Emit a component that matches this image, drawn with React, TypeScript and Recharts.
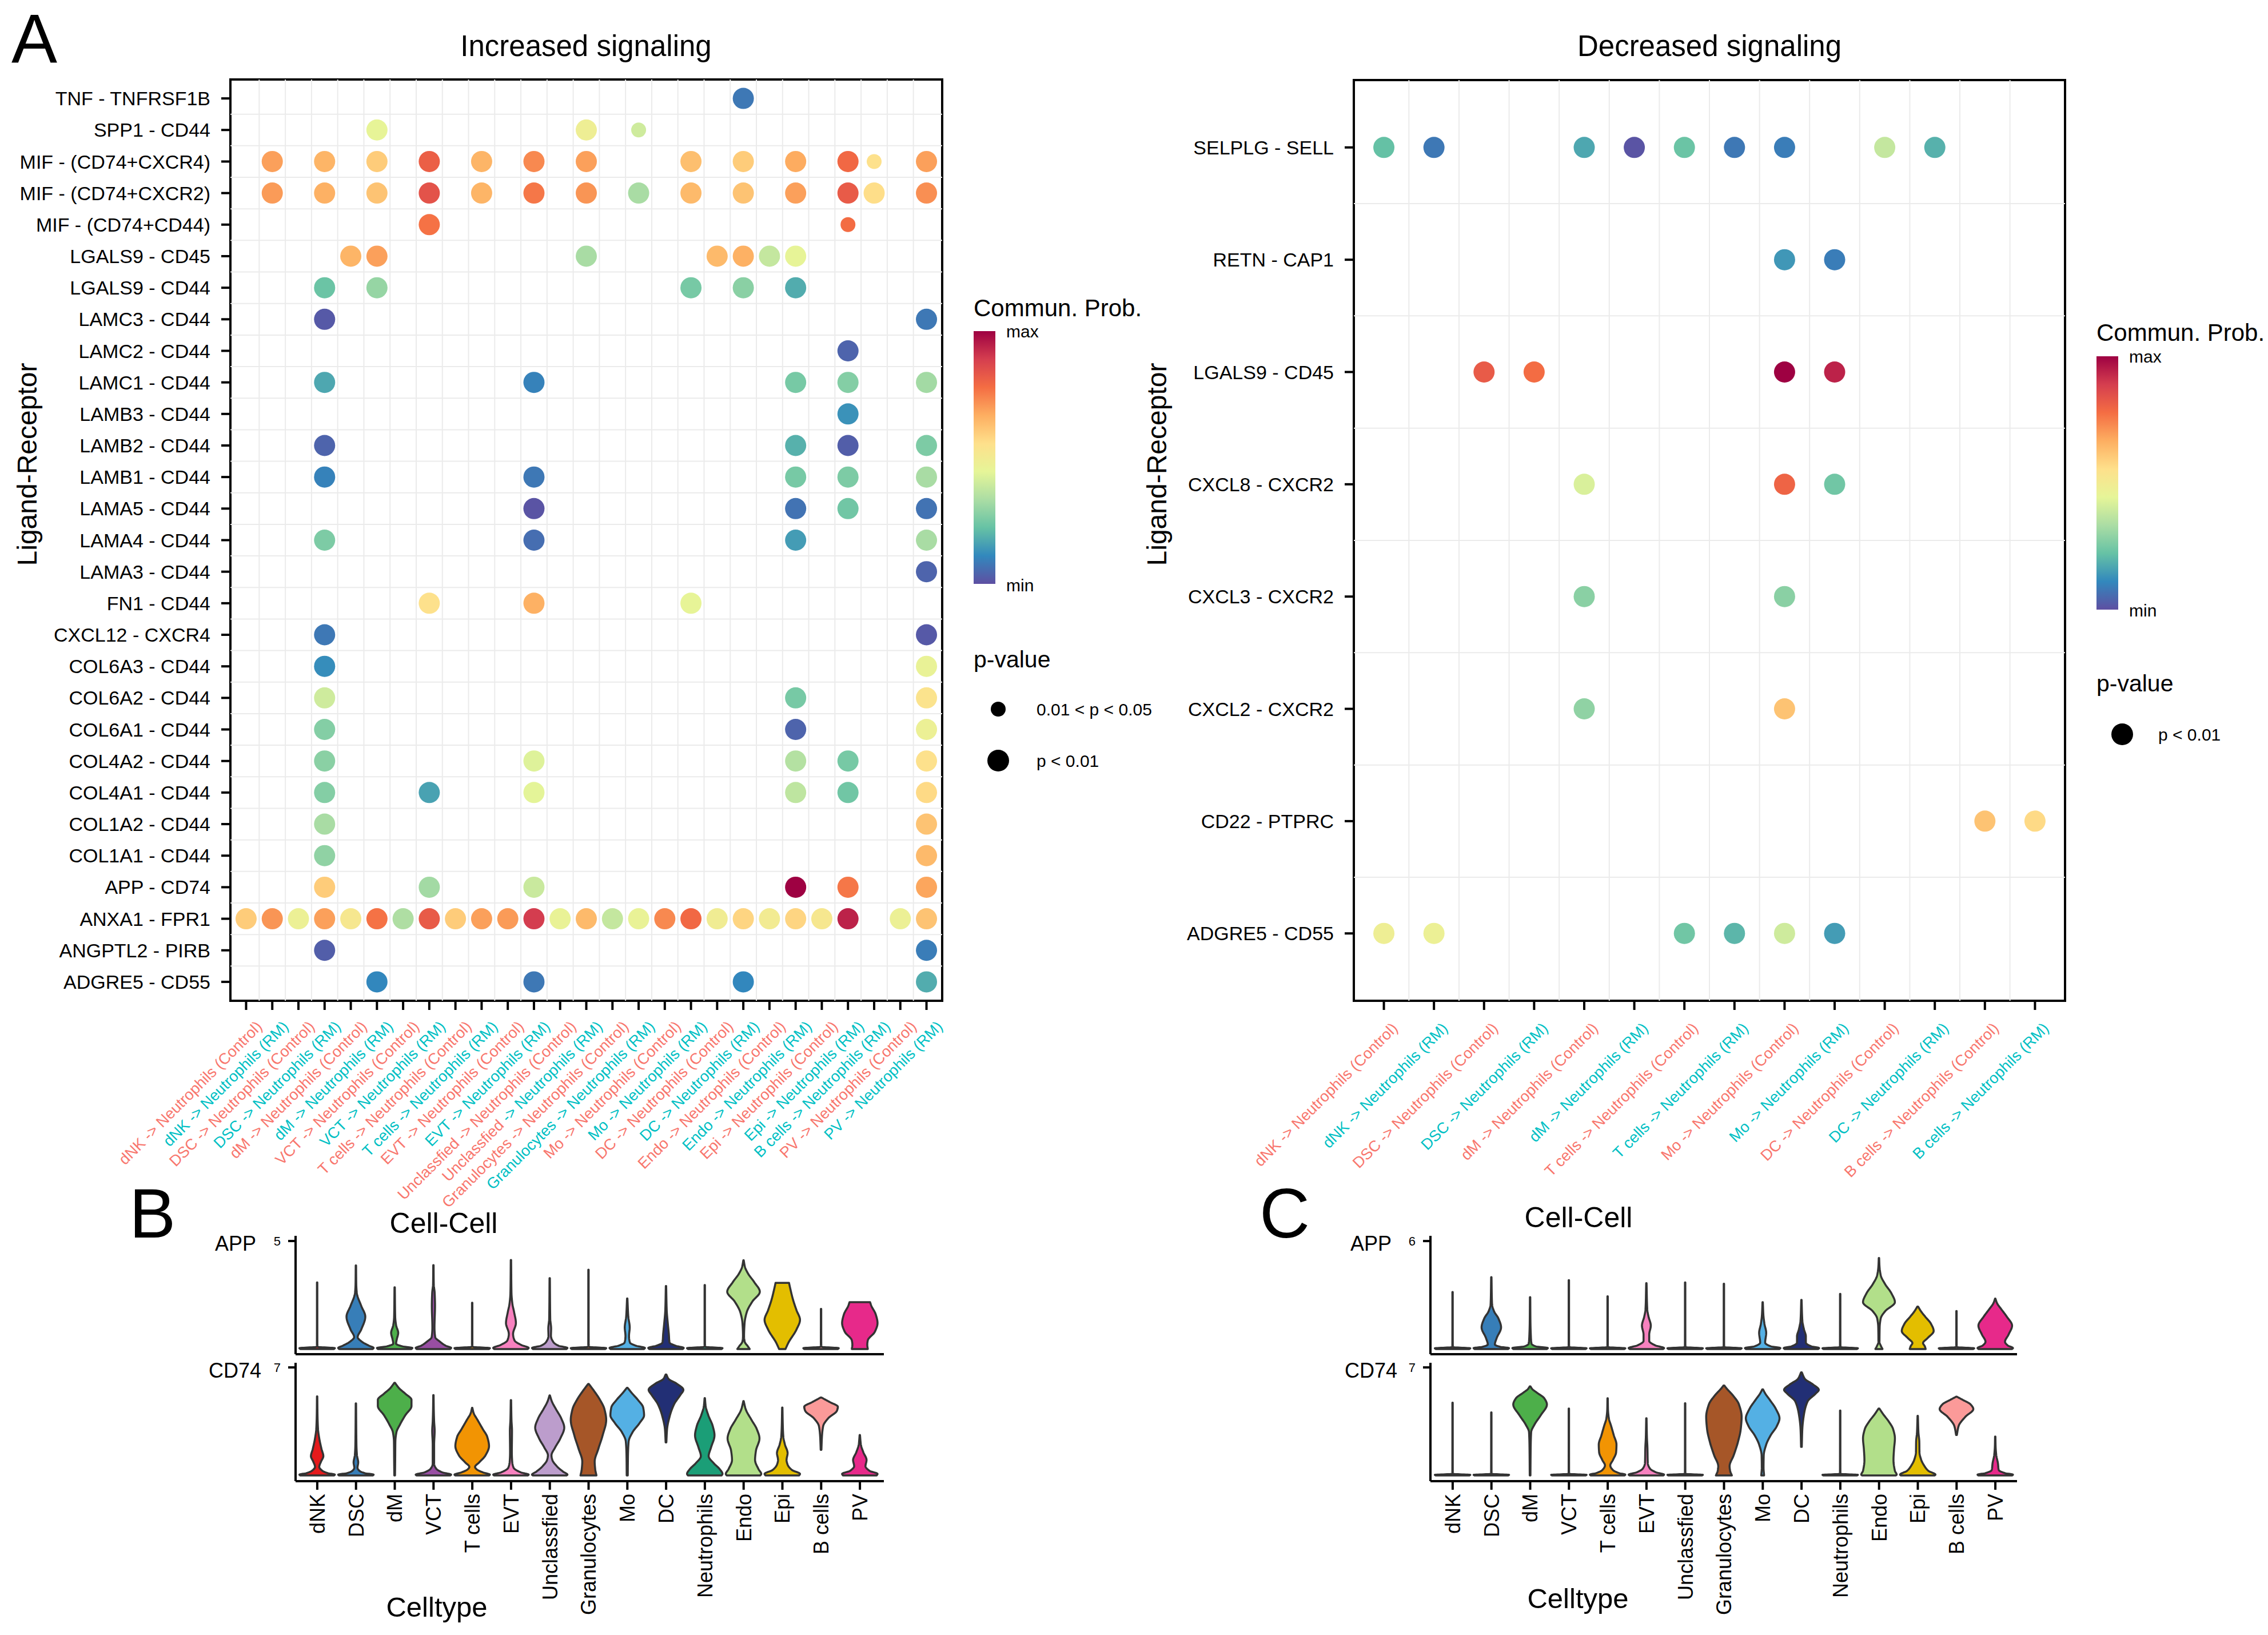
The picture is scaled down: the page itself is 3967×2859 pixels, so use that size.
import React from 'react';
import {
  ScatterChart,
  Scatter,
  XAxis,
  YAxis,
  ReferenceLine,
  ReferenceArea,
  ComposedChart,
  Bar,
} from 'recharts';

const FONT = '"Liberation Sans", Arial, Helvetica, sans-serif';

// RColorBrewer Spectral, from min to max
const SPECTRAL = ['#5E4FA2', '#3288BD', '#66C2A5', '#ABDDA4', '#E6F598', '#FEE08B', '#FDAE61', '#F46D43', '#D53E4F', '#9E0142'];
const CONTROL = '#F8766D';
const RM = '#00BFC4';

// ---------- A, increased signaling ----------
const incPairs = [
  'TNF - TNFRSF1B', 'SPP1 - CD44', 'MIF - (CD74+CXCR4)', 'MIF - (CD74+CXCR2)', 'MIF - (CD74+CD44)',
  'LGALS9 - CD45', 'LGALS9 - CD44', 'LAMC3 - CD44', 'LAMC2 - CD44', 'LAMC1 - CD44', 'LAMB3 - CD44',
  'LAMB2 - CD44', 'LAMB1 - CD44', 'LAMA5 - CD44', 'LAMA4 - CD44', 'LAMA3 - CD44', 'FN1 - CD44',
  'CXCL12 - CXCR4', 'COL6A3 - CD44', 'COL6A2 - CD44', 'COL6A1 - CD44', 'COL4A2 - CD44', 'COL4A1 - CD44',
  'COL1A2 - CD44', 'COL1A1 - CD44', 'APP - CD74', 'ANXA1 - FPR1', 'ANGPTL2 - PIRB', 'ADGRE5 - CD55',
];

const incTargets = [
  'dNK -> Neutrophils (Control)', 'dNK -> Neutrophils (RM)', 'DSC -> Neutrophils (Control)', 'DSC -> Neutrophils (RM)',
  'dM -> Neutrophils (Control)', 'dM -> Neutrophils (RM)', 'VCT -> Neutrophils (Control)', 'VCT -> Neutrophils (RM)',
  'T cells -> Neutrophils (Control)', 'T cells -> Neutrophils (RM)', 'EVT -> Neutrophils (Control)', 'EVT -> Neutrophils (RM)',
  'Unclassfied -> Neutrophils (Control)', 'Unclassfied -> Neutrophils (RM)', 'Granulocytes -> Neutrophils (Control)',
  'Granulocytes -> Neutrophils (RM)', 'Mo -> Neutrophils (Control)', 'Mo -> Neutrophils (RM)', 'DC -> Neutrophils (Control)',
  'DC -> Neutrophils (RM)', 'Endo -> Neutrophils (Control)', 'Endo -> Neutrophils (RM)', 'Epi -> Neutrophils (Control)',
  'Epi -> Neutrophils (RM)', 'B cells -> Neutrophils (RM)', 'PV -> Neutrophils (Control)', 'PV -> Neutrophils (RM)',
];

// [pair, target, commun. prob (0 = min .. 1 = max), p class: 1 = p < 0.01, 2 = 0.01 < p < 0.05]
const incDots = [
  [0, 19, 0.08, 1],
  [1, 5, 0.45, 1], [1, 13, 0.48, 1], [1, 15, 0.4, 2],
  [2, 1, 0.69, 1], [2, 3, 0.65, 1], [2, 5, 0.6, 1], [2, 7, 0.81, 1], [2, 9, 0.65, 1], [2, 11, 0.73, 1], [2, 13, 0.69, 1],
  [2, 17, 0.63, 1], [2, 19, 0.6, 1], [2, 21, 0.67, 1], [2, 23, 0.79, 1], [2, 24, 0.55, 2], [2, 26, 0.69, 1],
  [3, 1, 0.7, 1], [3, 3, 0.66, 1], [3, 5, 0.62, 1], [3, 7, 0.84, 1], [3, 9, 0.65, 1], [3, 11, 0.76, 1], [3, 13, 0.71, 1],
  [3, 15, 0.33, 1], [3, 17, 0.64, 1], [3, 19, 0.62, 1], [3, 21, 0.69, 1], [3, 23, 0.82, 1], [3, 24, 0.56, 1], [3, 26, 0.72, 1],
  [4, 7, 0.77, 1], [4, 23, 0.78, 2],
  [5, 4, 0.65, 1], [5, 5, 0.69, 1], [5, 13, 0.33, 1], [5, 18, 0.64, 1], [5, 19, 0.66, 1], [5, 20, 0.38, 1], [5, 21, 0.45, 1],
  [6, 3, 0.23, 1], [6, 5, 0.3, 1], [6, 17, 0.25, 1], [6, 19, 0.28, 1], [6, 21, 0.18, 1],
  [7, 3, 0.02, 1], [7, 26, 0.08, 1],
  [8, 23, 0.04, 1],
  [9, 3, 0.17, 1], [9, 11, 0.1, 1], [9, 21, 0.25, 1], [9, 23, 0.27, 1], [9, 26, 0.32, 1],
  [10, 23, 0.13, 1],
  [11, 3, 0.04, 1], [11, 21, 0.19, 1], [11, 23, 0.03, 1], [11, 26, 0.26, 1],
  [12, 3, 0.1, 1], [12, 11, 0.08, 1], [12, 21, 0.25, 1], [12, 23, 0.26, 1], [12, 26, 0.33, 1],
  [13, 11, 0.01, 1], [13, 21, 0.07, 1], [13, 23, 0.24, 1], [13, 26, 0.07, 1],
  [14, 3, 0.26, 1], [14, 11, 0.06, 1], [14, 21, 0.15, 1], [14, 26, 0.33, 1],
  [15, 26, 0.04, 1],
  [16, 7, 0.55, 1], [16, 11, 0.66, 1], [16, 17, 0.45, 1],
  [17, 3, 0.08, 1], [17, 26, 0.02, 1],
  [18, 3, 0.12, 1], [18, 26, 0.46, 1],
  [19, 3, 0.4, 1], [19, 21, 0.25, 1], [19, 26, 0.54, 1],
  [20, 3, 0.27, 1], [20, 21, 0.04, 1], [20, 26, 0.47, 1],
  [21, 3, 0.28, 1], [21, 11, 0.43, 1], [21, 21, 0.35, 1], [21, 23, 0.25, 1], [21, 26, 0.55, 1],
  [22, 3, 0.27, 1], [22, 7, 0.16, 1], [22, 11, 0.44, 1], [22, 21, 0.37, 1], [22, 23, 0.24, 1], [22, 26, 0.57, 1],
  [23, 3, 0.33, 1], [23, 26, 0.62, 1],
  [24, 3, 0.29, 1], [24, 26, 0.64, 1],
  [25, 3, 0.6, 1], [25, 7, 0.32, 1], [25, 11, 0.39, 1], [25, 21, 1.0, 1], [25, 23, 0.76, 1], [25, 26, 0.68, 1],
  [26, 0, 0.6, 1], [26, 1, 0.71, 1], [26, 2, 0.47, 1], [26, 3, 0.69, 1], [26, 4, 0.52, 1], [26, 5, 0.77, 1], [26, 6, 0.34, 1],
  [26, 7, 0.82, 1], [26, 8, 0.6, 1], [26, 9, 0.69, 1], [26, 10, 0.7, 1], [26, 11, 0.89, 1], [26, 12, 0.46, 1], [26, 13, 0.64, 1],
  [26, 14, 0.38, 1], [26, 15, 0.46, 1], [26, 16, 0.73, 1], [26, 17, 0.79, 1], [26, 18, 0.49, 1], [26, 19, 0.58, 1],
  [26, 20, 0.5, 1], [26, 21, 0.58, 1], [26, 22, 0.52, 1], [26, 23, 0.94, 1], [26, 25, 0.47, 1], [26, 26, 0.62, 1],
  [27, 3, 0.03, 1], [27, 26, 0.09, 1],
  [28, 5, 0.11, 1], [28, 11, 0.08, 1], [28, 19, 0.11, 1], [28, 26, 0.18, 1],
];

// ---------- A, decreased signaling ----------
const decPairs = [
  'SELPLG - SELL', 'RETN - CAP1', 'LGALS9 - CD45', 'CXCL8 - CXCR2',
  'CXCL3 - CXCR2', 'CXCL2 - CXCR2', 'CD22 - PTPRC', 'ADGRE5 - CD55',
];

const decTargets = [
  'dNK -> Neutrophils (Control)', 'dNK -> Neutrophils (RM)', 'DSC -> Neutrophils (Control)', 'DSC -> Neutrophils (RM)',
  'dM -> Neutrophils (Control)', 'dM -> Neutrophils (RM)', 'T cells -> Neutrophils (Control)', 'T cells -> Neutrophils (RM)',
  'Mo -> Neutrophils (Control)', 'Mo -> Neutrophils (RM)', 'DC -> Neutrophils (Control)', 'DC -> Neutrophils (RM)',
  'B cells -> Neutrophils (Control)', 'B cells -> Neutrophils (RM)',
];

const decDots = [
  [0, 0, 0.22, 1], [0, 1, 0.08, 1], [0, 4, 0.17, 1], [0, 5, 0.01, 1], [0, 6, 0.23, 1], [0, 7, 0.08, 1], [0, 8, 0.09, 1],
  [0, 10, 0.38, 1], [0, 11, 0.19, 1],
  [1, 8, 0.14, 1], [1, 9, 0.09, 1],
  [2, 2, 0.82, 1], [2, 3, 0.78, 1], [2, 8, 1.0, 1], [2, 9, 0.94, 1],
  [3, 4, 0.42, 1], [3, 8, 0.8, 1], [3, 9, 0.24, 1],
  [4, 4, 0.28, 1], [4, 8, 0.28, 1],
  [5, 4, 0.29, 1], [5, 8, 0.62, 1],
  [6, 12, 0.62, 1], [6, 13, 0.57, 1],
  [7, 0, 0.48, 1], [7, 1, 0.47, 1], [7, 6, 0.24, 1], [7, 7, 0.2, 1], [7, 8, 0.4, 1], [7, 9, 0.15, 1],
];

// ---------- B / C, violins ----------
const cellTypes = ['dNK', 'DSC', 'dM', 'VCT', 'T cells', 'EVT', 'Unclassfied', 'Granulocytes', 'Mo', 'DC', 'Neutrophils', 'Endo', 'Epi', 'B cells', 'PV'];
const cellColors = ['#E41A1C', '#377EB8', '#4DAF4A', '#984EA3', '#F29403', '#F781BF', '#BC9DCC', '#A65628', '#54B0E4', '#222F75', '#1B9E77', '#B2DF8A', '#E3BE00', '#FB9A99', '#E7298A'];

// each violin: [expression, relative half width] from bottom to top
const bApp = [
  [[0, 0.95], [0.04, 1], [0.1, 0.05], [0.2, 0.012], [3.08, 0.01]],
  [[0, 0.95], [0.05, 1], [0.15, 0.75], [0.33, 0.35], [0.55, 0.1], [0.9, 0.3], [1.5, 0.53], [2.0, 0.3], [2.6, 0.05], [3.0, 0.02], [3.87, 0.01]],
  [[0, 0.95], [0.05, 1], [0.12, 0.45], [0.25, 0.08], [0.45, 0.12], [0.75, 0.2], [1.1, 0.08], [1.5, 0.03], [2.86, 0.01]],
  [[0, 0.95], [0.05, 1], [0.15, 0.7], [0.35, 0.35], [0.55, 0.1], [1.0, 0.06], [2.0, 0.09], [2.6, 0.07], [3.0, 0.02], [3.88, 0.01]],
  [[0, 0.95], [0.04, 1], [0.1, 0.05], [0.2, 0.012], [2.14, 0.01]],
  [[0, 0.95], [0.05, 1], [0.18, 0.6], [0.4, 0.2], [0.7, 0.12], [1.2, 0.28], [1.7, 0.18], [2.1, 0.08], [2.6, 0.03], [4.12, 0.01]],
  [[0, 0.95], [0.05, 1], [0.15, 0.5], [0.33, 0.2], [0.6, 0.07], [0.95, 0.08], [1.4, 0.03], [3.28, 0.01]],
  [[0, 0.95], [0.04, 1], [0.1, 0.05], [0.2, 0.012], [3.67, 0.01]],
  [[0, 0.95], [0.05, 1], [0.15, 0.5], [0.3, 0.15], [0.6, 0.1], [1.0, 0.14], [1.5, 0.06], [2.34, 0.01]],
  [[0, 0.95], [0.05, 1], [0.15, 0.55], [0.3, 0.2], [0.7, 0.16], [1.2, 0.1], [1.8, 0.04], [2.92, 0.01]],
  [[0, 0.95], [0.04, 1], [0.1, 0.05], [0.2, 0.012], [2.96, 0.01]],
  [[0, 0.35], [0.12, 0.25], [0.35, 0.06], [0.6, 0.03], [1.2, 0.06], [1.7, 0.18], [2.2, 0.5], [2.65, 0.92], [3.1, 0.6], [3.5, 0.25], [3.8, 0.08], [4.11, 0.01]],
  [[0, 0.18], [0.3, 0.35], [0.9, 0.8], [1.35, 1.0], [1.8, 0.8], [2.3, 0.6], [2.8, 0.45], [3.06, 0.38]],
  [[0, 0.95], [0.04, 1], [0.1, 0.05], [0.2, 0.012], [1.86, 0.01]],
  [[0, 0.45], [0.2, 0.42], [0.4, 0.45], [0.8, 0.85], [1.2, 1.0], [1.6, 0.9], [2.0, 0.65], [2.17, 0.58]],
];

const bCd74 = [
  [[0, 0.95], [0.05, 1], [0.15, 0.6], [0.3, 0.3], [0.55, 0.12], [0.9, 0.22], [1.25, 0.35], [1.7, 0.25], [2.4, 0.12], [3.0, 0.05], [4.0, 0.02], [5.12, 0.01]],
  [[0, 0.95], [0.05, 1], [0.15, 0.5], [0.3, 0.2], [0.5, 0.09], [0.85, 0.13], [1.3, 0.06], [2.0, 0.03], [4.67, 0.01]],
  [[0, 0.02], [1.0, 0.03], [2.2, 0.04], [2.8, 0.1], [3.3, 0.3], [3.9, 0.6], [4.5, 0.95], [4.9, 0.95], [5.3, 0.6], [5.65, 0.25], [6.0, 0.02]],
  [[0, 0.95], [0.05, 1], [0.2, 0.5], [0.45, 0.15], [0.75, 0.04], [2.0, 0.04], [2.9, 0.07], [3.5, 0.04], [4.3, 0.02], [5.21, 0.01]],
  [[0, 0.95], [0.05, 1], [0.2, 0.6], [0.4, 0.25], [0.55, 0.16], [0.85, 0.4], [1.3, 0.75], [1.9, 0.95], [2.5, 0.85], [3.0, 0.6], [3.6, 0.3], [4.05, 0.08], [4.38, 0.01]],
  [[0, 0.95], [0.05, 1], [0.2, 0.55], [0.5, 0.15], [0.9, 0.07], [1.5, 0.05], [2.9, 0.06], [3.6, 0.03], [4.88, 0.01]],
  [[0, 0.95], [0.05, 1], [0.25, 0.75], [0.6, 0.4], [1.0, 0.15], [1.3, 0.1], [1.8, 0.3], [2.4, 0.6], [3.1, 0.82], [3.7, 0.65], [4.3, 0.35], [4.8, 0.12], [5.19, 0.01]],
  [[0, 0.45], [0.4, 0.38], [0.9, 0.35], [1.7, 0.55], [2.6, 0.8], [3.6, 1.0], [4.3, 0.9], [4.9, 0.65], [5.5, 0.3], [5.93, 0.02]],
  [[0, 0.03], [1.2, 0.04], [2.2, 0.08], [2.8, 0.3], [3.4, 0.7], [3.9, 0.95], [4.4, 0.9], [4.9, 0.6], [5.35, 0.25], [5.68, 0.02]],
  [[2.14, 0.02], [3.0, 0.06], [3.8, 0.2], [4.6, 0.45], [5.2, 0.8], [5.55, 0.98], [5.95, 0.6], [6.25, 0.15], [6.54, 0.02]],
  [[0, 0.95], [0.1, 1.0], [0.4, 0.85], [0.8, 0.5], [1.25, 0.22], [1.8, 0.35], [2.6, 0.55], [3.2, 0.45], [3.9, 0.2], [4.5, 0.05], [5.01, 0.01]],
  [[0, 0.95], [0.1, 1.0], [0.4, 0.85], [1.0, 0.65], [1.6, 0.7], [2.4, 0.9], [3.0, 0.75], [3.6, 0.45], [4.3, 0.12], [4.82, 0.01]],
  [[0, 0.95], [0.1, 1], [0.35, 0.55], [0.7, 0.3], [1.0, 0.24], [1.45, 0.3], [2.0, 0.15], [2.5, 0.06], [3.2, 0.03], [4.4, 0.01]],
  [[1.66, 0.02], [2.5, 0.05], [3.2, 0.12], [3.7, 0.4], [4.2, 0.9], [4.45, 0.95], [4.75, 0.5], [5.05, 0.02]],
  [[0, 0.95], [0.1, 1], [0.3, 0.55], [0.6, 0.32], [1.0, 0.38], [1.5, 0.2], [2.0, 0.06], [2.62, 0.01]],
];

const cApp = [
  [[0, 0.95], [0.04, 1], [0.1, 0.05], [0.2, 0.012], [3.17, 0.01]],
  [[0, 0.95], [0.05, 1], [0.12, 0.5], [0.25, 0.2], [0.6, 0.3], [1.2, 0.55], [1.7, 0.4], [2.1, 0.15], [2.5, 0.04], [3.99, 0.01]],
  [[0, 0.95], [0.05, 1], [0.15, 0.3], [0.3, 0.08], [0.8, 0.04], [1.5, 0.02], [2.88, 0.01]],
  [[0, 0.95], [0.04, 1], [0.1, 0.05], [0.2, 0.012], [3.83, 0.01]],
  [[0, 0.95], [0.04, 1], [0.1, 0.05], [0.2, 0.012], [2.93, 0.01]],
  [[0, 0.95], [0.05, 1], [0.2, 0.5], [0.45, 0.16], [0.8, 0.16], [1.3, 0.25], [1.8, 0.12], [2.2, 0.05], [3.66, 0.01]],
  [[0, 0.95], [0.04, 1], [0.1, 0.05], [0.2, 0.012], [3.7, 0.01]],
  [[0, 0.95], [0.04, 1], [0.1, 0.05], [0.2, 0.012], [3.63, 0.01]],
  [[0, 0.95], [0.05, 1], [0.15, 0.45], [0.35, 0.14], [0.9, 0.2], [1.4, 0.1], [1.9, 0.04], [2.6, 0.01]],
  [[0, 0.95], [0.05, 1], [0.15, 0.55], [0.35, 0.25], [0.7, 0.25], [1.1, 0.14], [1.6, 0.05], [2.73, 0.01]],
  [[0, 0.95], [0.04, 1], [0.1, 0.05], [0.2, 0.012], [3.06, 0.01]],
  [[0, 0.2], [0.15, 0.12], [0.4, 0.03], [1.2, 0.04], [1.7, 0.1], [2.1, 0.35], [2.6, 0.9], [3.1, 0.7], [3.6, 0.35], [4.1, 0.1], [4.6, 0.03], [5.06, 0.01]],
  [[0, 0.45], [0.15, 0.4], [0.33, 0.3], [0.6, 0.55], [1.0, 0.9], [1.4, 0.75], [1.8, 0.42], [2.1, 0.18], [2.36, 0.02]],
  [[0, 0.95], [0.04, 1], [0.1, 0.05], [0.2, 0.012], [2.11, 0.01]],
  [[0, 0.95], [0.05, 1], [0.2, 0.7], [0.4, 0.55], [0.8, 0.75], [1.3, 0.95], [1.8, 0.65], [2.2, 0.35], [2.55, 0.1], [2.8, 0.01]],
];

const cCd74 = [
  [[0, 0.95], [0.04, 1], [0.1, 0.05], [0.2, 0.012], [4.72, 0.01]],
  [[0, 0.95], [0.04, 1], [0.1, 0.05], [0.2, 0.012], [4.09, 0.01]],
  [[0, 0.02], [1.5, 0.03], [2.8, 0.06], [3.3, 0.25], [3.9, 0.6], [4.6, 0.95], [5.0, 0.8], [5.35, 0.4], [5.6, 0.12], [5.77, 0.02]],
  [[0, 0.95], [0.04, 1], [0.1, 0.05], [0.2, 0.012], [4.34, 0.01]],
  [[0, 0.95], [0.05, 1], [0.15, 0.65], [0.35, 0.3], [0.65, 0.15], [1.0, 0.3], [1.5, 0.48], [2.0, 0.5], [2.6, 0.35], [3.2, 0.2], [3.7, 0.07], [4.3, 0.02], [5.0, 0.01]],
  [[0, 0.95], [0.05, 1], [0.2, 0.55], [0.45, 0.2], [0.8, 0.08], [1.8, 0.06], [2.5, 0.03], [3.71, 0.01]],
  [[0, 0.95], [0.04, 1], [0.1, 0.05], [0.2, 0.012], [4.68, 0.01]],
  [[0, 0.45], [0.3, 0.35], [0.6, 0.32], [1.3, 0.55], [2.2, 0.8], [3.0, 0.95], [3.8, 1.0], [4.6, 0.85], [5.2, 0.5], [5.6, 0.18], [5.83, 0.02]],
  [[0, 0.08], [0.5, 0.05], [1.3, 0.06], [2.0, 0.2], [2.6, 0.45], [3.2, 0.8], [3.7, 0.95], [4.3, 0.75], [4.9, 0.4], [5.3, 0.15], [5.58, 0.02]],
  [[1.85, 0.02], [3.0, 0.05], [4.0, 0.15], [4.8, 0.35], [5.3, 0.8], [5.55, 0.98], [5.9, 0.65], [6.25, 0.2], [6.68, 0.02]],
  [[0, 0.95], [0.04, 1], [0.1, 0.05], [0.2, 0.012], [4.21, 0.01]],
  [[0, 0.95], [0.05, 1], [0.3, 0.9], [1.0, 0.82], [1.7, 0.85], [2.4, 0.9], [3.0, 0.8], [3.5, 0.55], [3.95, 0.25], [4.34, 0.02]],
  [[0, 0.95], [0.05, 1], [0.3, 0.6], [0.7, 0.33], [1.0, 0.2], [1.5, 0.1], [2.2, 0.09], [2.8, 0.04], [3.86, 0.01]],
  [[2.62, 0.02], [3.2, 0.12], [3.8, 0.5], [4.3, 0.95], [4.6, 0.8], [4.9, 0.35], [5.1, 0.02]],
  [[0, 0.95], [0.05, 1], [0.15, 0.55], [0.35, 0.2], [0.8, 0.15], [1.3, 0.06], [1.9, 0.02], [2.52, 0.01]],
];

// ---------- helpers ----------
const hexRgb = (h: string) => [1, 3, 5].map((i) => parseInt(h.slice(i, i + 2), 16));

function spectral(t: number) {
  const s = Math.max(0, Math.min(1, t)) * (SPECTRAL.length - 1);
  const i = Math.min(Math.floor(s), SPECTRAL.length - 2);
  const f = s - i;
  const a = hexRgb(SPECTRAL[i]);
  const b = hexRgb(SPECTRAL[i + 1]);
  const c = a.map((v, k) => Math.round(v + (b[k] - v) * f));
  return `rgb(${c[0]},${c[1]},${c[2]})`;
}

const range = (n: number) => Array.from({ length: n }, (_, i) => i);

const DotShape = (props: any) => {
  const { cx, cy } = props;
  const p = props.payload ?? props;
  if (cx == null || cy == null) return null;
  return <circle cx={cx} cy={cy} r={p.sig === 2 ? 13 : 18.5} fill={spectral(p.prob)} />;
};

const TargetTick = (props: any) => {
  const { x, y, payload, labels, dx, dy } = props;
  const label: string = labels[payload.value] ?? '';
  const colour = label.endsWith('(RM)') ? RM : CONTROL;
  const split = label.startsWith('Unclassfied') && label.endsWith('(RM)');
  return (
    <g transform={`translate(${x + dx},${y + dy}) rotate(-45)`}>
      <text textAnchor="end" dy="0.72em" fontSize={27} fill={colour}>
        {split ? (
          <>
            <tspan fill={CONTROL}>Unclassfied</tspan>
            <tspan>{label.slice(11)}</tspan>
          </>
        ) : (
          label
        )}
      </text>
    </g>
  );
};

type DotPlotProps = {
  left: number;
  width: number;
  top: number;
  right: number;
  yAxisWidth: number;
  pairs: string[];
  targets: string[];
  dots: number[][];
  tickDx: number;
  tickDy: number;
};

function DotPlot({ left, width, top, right, yAxisWidth, pairs, targets, dots, tickDx, tickDy }: DotPlotProps) {
  const nx = targets.length;
  const ny = pairs.length;
  const data = dots.map(([r, c, prob, sig]) => ({ x: c, y: r, prob, sig }));
  const grid = { stroke: '#EBEBEB', strokeWidth: 2 };
  return (
    <div style={{ position: 'absolute', left, top: 0 }}>
      <ScatterChart width={width} height={2200} margin={{ top, right, bottom: 0, left: 0 }}>
        <XAxis
          type="number"
          dataKey="x"
          domain={[-0.6, nx - 1 + 0.6]}
          ticks={range(nx)}
          interval={0}
          allowDataOverflow
          height={450}
          tickSize={16}
          axisLine={false}
          tickLine={{ stroke: '#000', strokeWidth: 4 }}
          tick={(p: any) => <TargetTick {...p} labels={targets} dx={tickDx} dy={tickDy} />}
        />
        <YAxis
          type="number"
          dataKey="y"
          domain={[-0.6, ny - 1 + 0.6]}
          reversed
          ticks={range(ny)}
          interval={0}
          allowDataOverflow
          width={yAxisWidth}
          tickSize={16}
          tickMargin={19}
          axisLine={false}
          tickLine={{ stroke: '#000', strokeWidth: 4 }}
          tick={{ fontSize: 34, fill: '#000' }}
          tickFormatter={(v: number) => pairs[v] ?? ''}
        />
        {range(nx - 1).map((i) => (
          <ReferenceLine key={`vx${i}`} x={i + 0.5} {...grid} />
        ))}
        {range(ny - 1).map((j) => (
          <ReferenceLine key={`hy${j}`} y={j + 0.5} {...grid} />
        ))}
        <ReferenceArea
          x1={-0.6}
          x2={nx - 1 + 0.6}
          y1={-0.6}
          y2={ny - 1 + 0.6}
          fill="none"
          stroke="#000"
          strokeWidth={4}
          ifOverflow="visible"
        />
        <Scatter data={data} isAnimationActive={false} shape={DotShape} />
      </ScatterChart>
    </div>
  );
}

// monotone cubic outline of one violin
function violinPath(profile: number[][], cx: number, half: number, toPx: (v: number) => number) {
  const xs = profile.map((p) => p[0]);
  const ys = profile.map((p) => p[1]);
  const n = xs.length;
  const h: number[] = [];
  const d: number[] = [];
  for (let k = 0; k < n - 1; k++) {
    h[k] = xs[k + 1] - xs[k];
    d[k] = (ys[k + 1] - ys[k]) / h[k];
  }
  const m = new Array(n).fill(0);
  m[0] = d[0];
  m[n - 1] = d[n - 2];
  for (let k = 1; k < n - 1; k++) {
    if (d[k - 1] * d[k] <= 0) m[k] = 0;
    else {
      const w1 = 2 * h[k] + h[k - 1];
      const w2 = h[k] + 2 * h[k - 1];
      m[k] = (w1 + w2) / (w1 / d[k - 1] + w2 / d[k]);
    }
  }
  const pts: number[][] = [];
  for (let k = 0; k < n - 1; k++) {
    const steps = 12;
    for (let s = 0; s < steps; s++) {
      const t = s / steps;
      const h00 = 2 * t ** 3 - 3 * t ** 2 + 1;
      const h10 = t ** 3 - 2 * t ** 2 + t;
      const h01 = -2 * t ** 3 + 3 * t ** 2;
      const h11 = t ** 3 - t ** 2;
      const w = h00 * ys[k] + h10 * h[k] * m[k] + h01 * ys[k + 1] + h11 * h[k] * m[k + 1];
      pts.push([toPx(xs[k] + t * h[k]), Math.max(w, 0.004) * half]);
    }
  }
  pts.push([toPx(xs[n - 1]), ys[n - 1] * half]);
  const rightSide = pts.map(([py, w]) => `${(cx + w).toFixed(2)},${py.toFixed(2)}`);
  const leftSide = pts
    .slice()
    .reverse()
    .map(([py, w]) => `${(cx - w).toFixed(2)},${py.toFixed(2)}`);
  return `M${rightSide.join('L')}L${leftSide.join('L')}Z`;
}

const ViolinShape = (props: any) => {
  const { x, y, width, height, payload } = props;
  if (!payload || x == null) return null;
  const profile: number[][] = payload.profile;
  const lo = profile[0][0];
  const hi = profile[profile.length - 1][0];
  const yTop = Math.min(y, y + height);
  const yBot = Math.max(y, y + height);
  const toPx = (v: number) => yBot - ((v - lo) / (hi - lo)) * (yBot - yTop);
  return (
    <path
      d={violinPath(profile, x + width / 2, width / 2, toPx)}
      fill={payload.color}
      stroke="#333333"
      strokeWidth={3.5}
      strokeLinejoin="round"
    />
  );
};

const CellTick = (props: any) => {
  const { x, y, payload } = props;
  return (
    <g transform={`translate(${x},${y + 5}) rotate(-90)`}>
      <text textAnchor="end" dy="0.36em" fontSize={36} fill="#000">
        {payload.value}
      </text>
    </g>
  );
};

type ViolinProps = {
  left: number;
  top: number;
  height: number;
  margin: { top: number; right: number; bottom: number; left: number };
  profiles: number[][][];
  domain: [number, number];
  tick: number;
  labels: boolean;
  padding: { left: number; right: number };
};

function ViolinPanel({ left, top, height, margin, profiles, domain, tick, labels, padding }: ViolinProps) {
  const data = cellTypes.map((name, i) => ({
    name,
    range: [profiles[i][0][0], profiles[i][profiles[i].length - 1][0]],
    profile: profiles[i],
    color: cellColors[i],
  }));
  const line = { stroke: '#000', strokeWidth: 4 };
  return (
    <div style={{ position: 'absolute', left, top }}>
      <ComposedChart width={1600} height={height} data={data} margin={margin} barCategoryGap="4%">
        <XAxis
          dataKey="name"
          type="category"
          interval={0}
          padding={padding}
          height={labels ? 269 : 2}
          axisLine={line}
          tickLine={labels ? line : false}
          tickSize={15}
          tick={labels ? CellTick : false}
        />
        <YAxis
          type="number"
          domain={domain}
          ticks={[tick]}
          allowDataOverflow
          width={100}
          tickSize={13}
          tickMargin={13}
          axisLine={line}
          tickLine={line}
          tick={{ fontSize: 22, fill: '#000' }}
        />
        <Bar dataKey="range" isAnimationActive={false} shape={ViolinShape} />
      </ComposedChart>
    </div>
  );
}

function ColourLegend({ x, top, barTop, barBottom, maxY, minY, pTitleY, dots }: any) {
  return (
    <g>
      <text x={x} y={top} fontSize={42}>Commun. Prob.</text>
      <rect x={x} y={barTop} width={38} height={barBottom - barTop} fill="url(#spectralBar)" />
      <text x={x + 57} y={maxY} fontSize={30}>max</text>
      <text x={x + 57} y={minY} fontSize={30}>min</text>
      <text x={x} y={pTitleY} fontSize={41}>p-value</text>
      {dots.map((d: any) => (
        <g key={d.label}>
          <circle cx={d.cx} cy={d.cy} r={d.r} fill="#000" />
          <text x={d.tx} y={d.cy} dy="0.35em" fontSize={30}>{d.label}</text>
        </g>
      ))}
    </g>
  );
}

export default function App() {
  return (
    <div
      style={{
        position: 'absolute',
        left: 0,
        top: 0,
        width: 3967,
        height: 2859,
        background: '#fff',
        fontFamily: FONT,
        overflow: 'hidden',
      }}
    >
      <DotPlot
        left={0}
        width={1700}
        top={139}
        right={52}
        yAxisWidth={403}
        pairs={incPairs}
        targets={incTargets}
        dots={incDots}
        tickDx={16}
        tickDy={15}
      />
      <DotPlot
        left={2000}
        width={1620}
        top={140}
        right={8}
        yAxisWidth={368}
        pairs={decPairs}
        targets={decTargets}
        dots={decDots}
        tickDx={12}
        tickDy={18}
      />

      <ViolinPanel
        left={0}
        top={2100}
        height={300}
        margin={{ top: 61, right: 54, bottom: 30, left: 417 }}
        profiles={bApp}
        domain={[-0.24, 5.24]}
        tick={5}
        labels={false}
        padding={{ left: 4, right: 8 }}
      />
      <ViolinPanel
        left={0}
        top={2350}
        height={509}
        margin={{ top: 33, right: 54, bottom: 0, left: 417 }}
        profiles={bCd74}
        domain={[-0.37, 7.3]}
        tick={7}
        labels
        padding={{ left: 4, right: 8 }}
      />
      <ViolinPanel
        left={2000}
        top={2100}
        height={300}
        margin={{ top: 61, right: 72, bottom: 30, left: 402 }}
        profiles={cApp}
        domain={[-0.29, 6.29]}
        tick={6}
        labels={false}
        padding={{ left: 5, right: 4 }}
      />
      <ViolinPanel
        left={2000}
        top={2350}
        height={509}
        margin={{ top: 33, right: 72, bottom: 0, left: 402 }}
        profiles={cCd74}
        domain={[-0.37, 7.3]}
        tick={7}
        labels
        padding={{ left: 5, right: 4 }}
      />

      <svg
        width={3967}
        height={2859}
        style={{ position: 'absolute', left: 0, top: 0, pointerEvents: 'none' }}
        fontFamily={FONT}
        fill="#000"
      >
        <defs>
          <linearGradient id="spectralBar" x1="0" y1="1" x2="0" y2="0">
            {SPECTRAL.map((c, i) => (
              <stop key={c} offset={i / (SPECTRAL.length - 1)} stopColor={c} />
            ))}
          </linearGradient>
        </defs>

        <text x={20} y={109} fontSize={120}>A</text>
        <text x={1025} y={98} fontSize={51} textAnchor="middle">Increased signaling</text>
        <text x={2990} y={98} fontSize={51} textAnchor="middle">Decreased signaling</text>
        <text transform="translate(64,812) rotate(-90)" fontSize={48} textAnchor="middle">Ligand-Receptor</text>
        <text transform="translate(2040,812) rotate(-90)" fontSize={48} textAnchor="middle">Ligand-Receptor</text>

        <ColourLegend
          x={1703}
          top={553}
          barTop={579}
          barBottom={1021}
          maxY={590}
          minY={1034}
          pTitleY={1167}
          dots={[
            { cx: 1746, cy: 1240, r: 13, tx: 1813, label: '0.01 < p < 0.05' },
            { cx: 1746, cy: 1330, r: 19, tx: 1813, label: 'p < 0.01' },
          ]}
        />
        <ColourLegend
          x={3667}
          top={596}
          barTop={623}
          barBottom={1066}
          maxY={634}
          minY={1078}
          pTitleY={1209}
          dots={[{ cx: 3712, cy: 1284, r: 19, tx: 3775, label: 'p < 0.01' }]}
        />

        <text x={226} y={2164} fontSize={122}>B</text>
        <text x={776} y={2156} fontSize={50} textAnchor="middle">Cell-Cell</text>
        <text x={376} y={2187} fontSize={36}>APP</text>
        <text x={365} y={2409} fontSize={36}>CD74</text>
        <text x={764} y={2827} fontSize={49} textAnchor="middle">Celltype</text>

        <text x={2203} y={2164} fontSize={122}>C</text>
        <text x={2761} y={2146} fontSize={50} textAnchor="middle">Cell-Cell</text>
        <text x={2362} y={2187} fontSize={36}>APP</text>
        <text x={2352} y={2409} fontSize={36}>CD74</text>
        <text x={2760} y={2812} fontSize={49} textAnchor="middle">Celltype</text>
      </svg>
    </div>
  );
}
